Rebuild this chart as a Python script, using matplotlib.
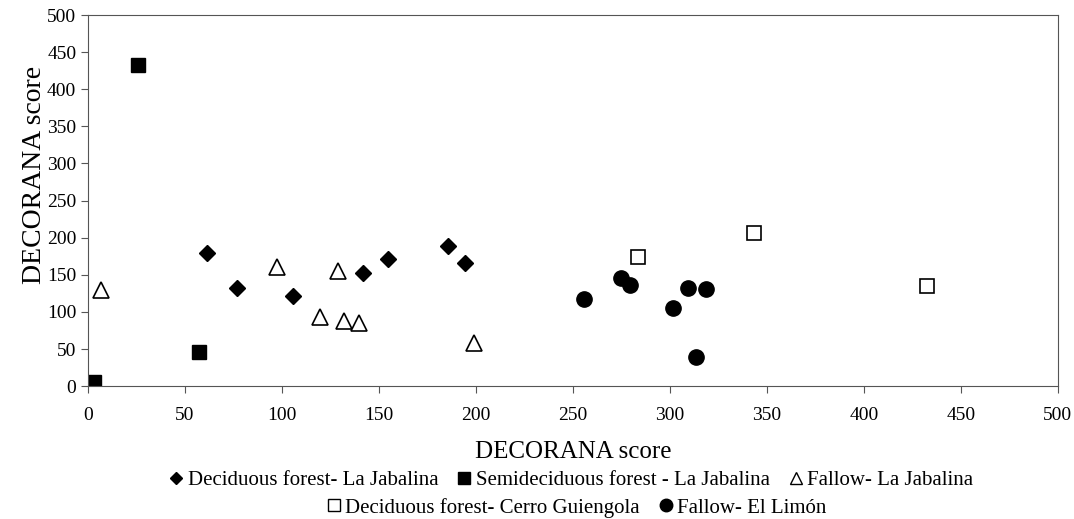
import matplotlib
matplotlib.use("Agg")
import matplotlib.pyplot as plt
from matplotlib.lines import Line2D

plt.rcParams['font.family'] = ['Liberation Serif', 'DejaVu Serif']

# --- data ---
dec_jab_x = [61.1, 76.6, 105.8, 142.0, 154.4, 185.7, 194.5]
dec_jab_y = [179.0, 132.0, 121.0, 152.0, 170.7, 188.7, 165.4]

semi_jab_x = [25.6, 57.0, 3.2]
semi_jab_y = [432.6, 45.4, 5.0]

fal_jab_x = [6.7, 97.4, 129.0, 119.4, 132.1, 139.7, 199.1]
fal_jab_y = [129.0, 161.0, 155.4, 92.6, 87.6, 84.5, 58.4]

dec_cg_x = [283.5, 343.5, 432.5]
dec_cg_y = [174.3, 205.8, 135.2]

fal_lim_x = [255.5, 274.9, 279.2, 309.3, 318.6, 301.4, 313.6]
fal_lim_y = [117.3, 145.1, 136.5, 131.6, 130.3, 104.7, 38.7]

labels = ["Deciduous forest- La Jabalina", "Semideciduous forest - La Jabalina",
          "Fallow- La Jabalina", "Deciduous forest- Cerro Guiengola", "Fallow- El Limón"]

fig = plt.figure(figsize=(10.74, 5.19), dpi=100)
ax = fig.add_axes([0.082, 0.256, 0.903, 0.715])

ax.plot(dec_jab_x, dec_jab_y, ls='none', marker='D', ms=8, color='black')
ax.plot(semi_jab_x, semi_jab_y, ls='none', marker='s', ms=10, color='black')
ax.plot(fal_jab_x, fal_jab_y, ls='none', marker='^', ms=11, mfc='white', mec='black', mew=1.2)
ax.plot(dec_cg_x, dec_cg_y, ls='none', marker='s', ms=10, mfc='white', mec='black', mew=1.2)
ax.plot(fal_lim_x, fal_lim_y, ls='none', marker='o', ms=11, color='black')

ax.set_xlim(0, 500)
ax.set_ylim(0, 500)
ax.set_xticks(range(0, 501, 50))
ax.set_yticks(range(0, 501, 50))
ax.tick_params(labelsize=14, length=5, color='#555555', direction='out')
ax.tick_params(axis='x', pad=10)
for s in ax.spines.values():
    s.set_color('#555555')
ax.set_xlabel("DECORANA score", fontsize=18, labelpad=12)
ax.set_ylabel("DECORANA score", fontsize=20)
ax.yaxis.set_label_coords(-0.042, 0.57)

h1 = [Line2D([], [], ls='none', marker='D', ms=6, color='black'),
      Line2D([], [], ls='none', marker='s', ms=9, color='black'),
      Line2D([], [], ls='none', marker='^', ms=9, mfc='white', mec='black')]
h2 = [Line2D([], [], ls='none', marker='s', ms=9, mfc='white', mec='black'),
      Line2D([], [], ls='none', marker='o', ms=9, color='black')]

leg_kw = dict(frameon=False, fontsize=15, handletextpad=0.0, columnspacing=0.7,
              handlelength=1.1, borderaxespad=0)
fig.legend(h1, labels[:3], loc='center', bbox_to_anchor=(0.53, 0.075), ncol=3, **leg_kw)
fig.legend(h2, labels[3:], loc='center', bbox_to_anchor=(0.535, 0.022), ncol=2, **leg_kw)

fig.savefig("out.png", dpi=100)
